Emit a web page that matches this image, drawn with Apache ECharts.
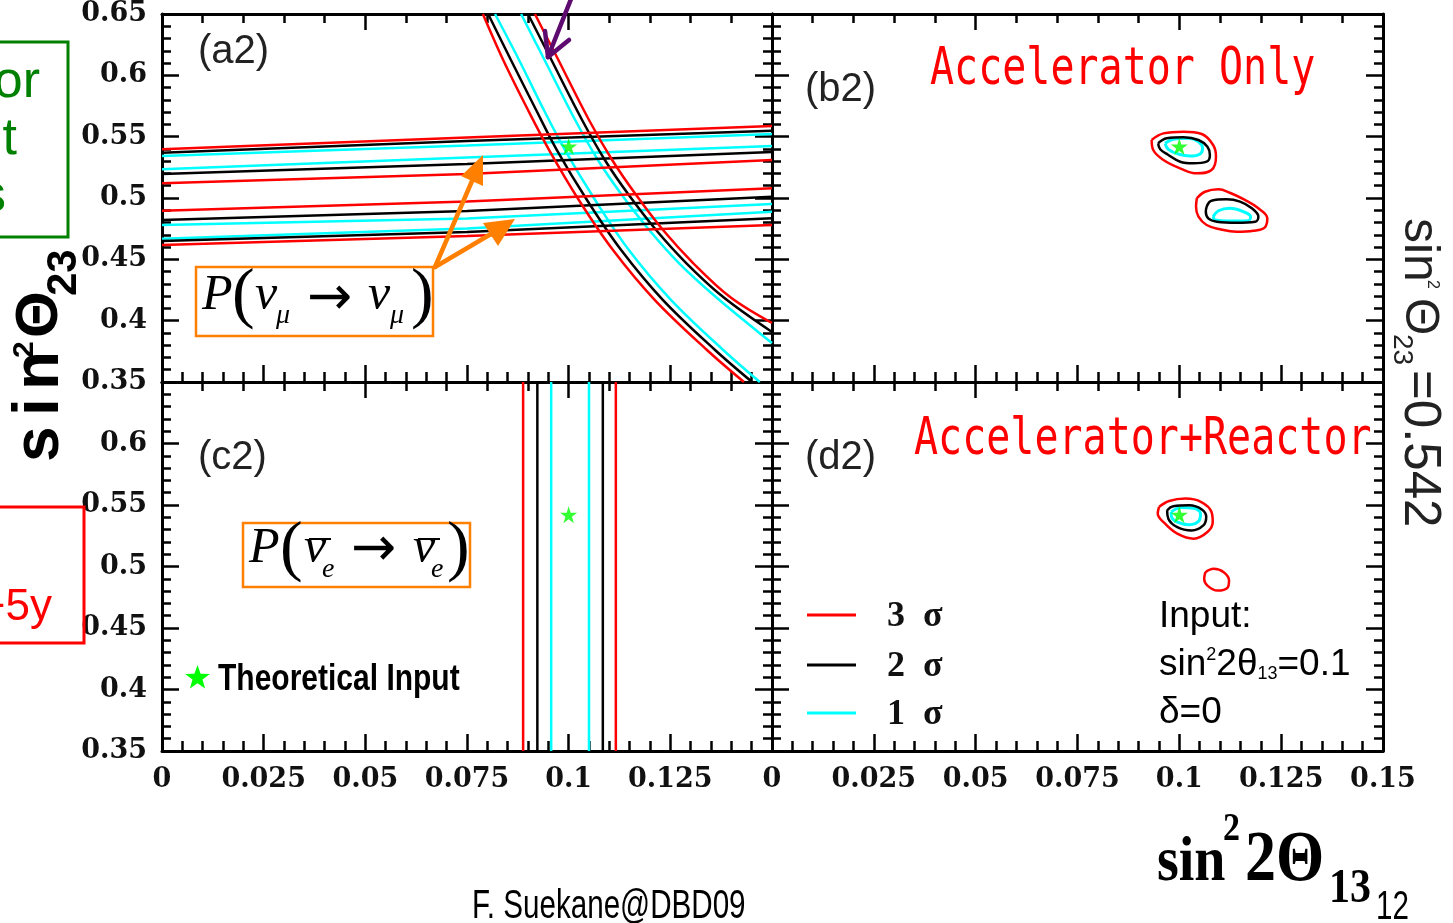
<!DOCTYPE html>
<html>
<head>
<meta charset="utf-8">
<title>sin²Θ23 vs sin²2Θ13 allowed regions</title>
<script src="https://cdn.jsdelivr.net/npm/echarts@6/dist/echarts.min.js"></script>
<style>
html,body{margin:0;padding:0;background:#fff;overflow:hidden}
#chart{width:1453px;height:923px}
</style>
</head>
<body>
<div id="chart"></div>
<script>
// ---------------- axis ranges ----------------
const xRange = [0, 0.15];          // sin^2 2θ13
const yRange = [0.35, 0.65];       // sin^2 θ23
const xStepBottom = 0.025;
const xStepTop = 0.05;
const yStep = 0.05;

// true parameters used in the simulation
const inputPoint = [0.1, 0.542];

// ---------------- (a2) nu_mu disappearance bands ----------------
// band edges sampled at these sin^2 2θ13 values
const bandX = [0, 0.075, 0.15];
// upper-octant band
const upTop3 = [0.5397, 0.5493, 0.5587];
const upTop2 = [0.5369, 0.5465, 0.5549];
const upTop1 = [0.5342, 0.5428, 0.5522];
const upBot1 = [0.5234, 0.5330, 0.5424];
const upBot2 = [0.5196, 0.5277, 0.5375];
const upBot3 = [0.5120, 0.5196, 0.5310];
// lower-octant band
const loTop3 = [0.4896, 0.4971, 0.5079];
const loTop2 = [0.4821, 0.4894, 0.5011];
const loTop1 = [0.4780, 0.4833, 0.4951];
const loBot1 = [0.4668, 0.4751, 0.4888];
const loBot2 = [0.4650, 0.4723, 0.4835];
const loBot3 = [0.4617, 0.4690, 0.4780];

// ---------------- (a2) nu_e appearance band ----------------
const appLeft3 = [[0.0789,0.65],[0.0839,0.6125],[0.0900,0.5717],[0.0952,0.5391],[0.1025,0.4984],[0.1109,0.4576],[0.1212,0.4168],[0.1340,0.3761],[0.1431,0.35]];
const appLeft2 = [[0.0802,0.65],[0.0858,0.6125],[0.0920,0.5717],[0.0971,0.5391],[0.1045,0.4984],[0.1129,0.4576],[0.1232,0.4168],[0.1360,0.3761],[0.1451,0.35]];
const appLeft1 = [[0.0819,0.65],[0.0878,0.6125],[0.0939,0.5717],[0.0991,0.5391],[0.1065,0.4984],[0.1148,0.4576],[0.1252,0.4168],[0.1380,0.3761],[0.1470,0.35]];
const appRight1 = [[0.0883,0.65],[0.0937,0.6149],[0.1016,0.5636],[0.1072,0.5310],[0.1131,0.5024],[0.1198,0.4739],[0.1271,0.4470],[0.1362,0.4193],[0.1466,0.3908],[0.15,0.3818]];
const appRight2 = [[0.0900,0.65],[0.0954,0.6149],[0.1033,0.5636],[0.1089,0.5310],[0.1148,0.5024],[0.1215,0.4739],[0.1289,0.4470],[0.1380,0.4193],[0.15,0.3908]];
const appRight3 = [[0.0917,0.65],[0.0971,0.6149],[0.1050,0.5636],[0.1107,0.5310],[0.1166,0.5024],[0.1232,0.4739],[0.1306,0.4470],[0.1397,0.4193],[0.15,0.3981]];

// ---------------- (c2) reactor limits on sin^2 2θ13 ----------------
const reactor3 = [0.0888, 0.1116];
const reactor2 = [0.0923, 0.1084];
const reactor1 = [0.0957, 0.1050];

// ---------------- (b2) accelerator only: two islands ----------------
const accA3 = [[0.0932,0.5473],[0.0961,0.5527],[0.1010,0.5541],[0.1055,0.5522],[0.1083,0.5432],[0.1090,0.5337],[0.1079,0.5228],[0.1043,0.5201],[0.1002,0.5242],[0.0961,0.5310],[0.0936,0.5391]];
const accA2 = [[0.0948,0.5446],[0.0969,0.5487],[0.1010,0.5495],[0.1047,0.5473],[0.1069,0.5418],[0.1075,0.5351],[0.1067,0.5296],[0.1034,0.5283],[0.1002,0.5296],[0.0973,0.5351],[0.0953,0.5397]];
const accA1 = [[0.0965,0.5446],[0.0985,0.5479],[0.1022,0.5487],[0.1047,0.5459],[0.1057,0.5405],[0.1051,0.5359],[0.1026,0.5342],[0.0997,0.5359],[0.0973,0.5397]];
const accB3 = [[0.1043,0.4998],[0.1063,0.5051],[0.1096,0.5071],[0.1124,0.5043],[0.1161,0.4984],[0.1194,0.4916],[0.1216,0.4834],[0.1210,0.4761],[0.1182,0.4733],[0.1141,0.4725],[0.1100,0.4745],[0.1067,0.4780],[0.1047,0.4848],[0.1041,0.4929]];
const accB2 = [[0.1067,0.4929],[0.1079,0.4978],[0.1116,0.4989],[0.1149,0.4970],[0.1178,0.4916],[0.1194,0.4848],[0.1186,0.4807],[0.1141,0.4799],[0.1092,0.4807],[0.1071,0.4834],[0.1065,0.4889]];
const accB1 = [[0.1083,0.4848],[0.1096,0.4896],[0.1124,0.4916],[0.1157,0.4889],[0.1175,0.4848],[0.1169,0.4815],[0.1124,0.4812],[0.1088,0.4821]];

// ---------------- (d2) accelerator + reactor ----------------
const combA3 = [[0.0950,0.5483],[0.0975,0.5532],[0.1015,0.5552],[0.1054,0.5524],[0.1079,0.5443],[0.1082,0.5361],[0.1069,0.5280],[0.1035,0.5226],[0.0995,0.5267],[0.0965,0.5348],[0.0947,0.5430]];
const combA2 = [[0.0970,0.5457],[0.0985,0.5489],[0.1024,0.5497],[0.1056,0.5462],[0.1066,0.5402],[0.1059,0.5334],[0.1030,0.5293],[0.0995,0.5320],[0.0973,0.5389]];
const combA1 = [[0.0980,0.5443],[0.1005,0.5479],[0.1035,0.5473],[0.1052,0.5430],[0.1049,0.5375],[0.1024,0.5340],[0.0995,0.5361],[0.0981,0.5402]];
const combB3 = [[0.1064,0.4954],[0.1084,0.4981],[0.1109,0.4954],[0.1122,0.4886],[0.1118,0.4826],[0.1094,0.4804],[0.1069,0.4845],[0.1061,0.4900]];

// ---------------- styling ----------------
const RED = '#ff0000', BLACK = '#000000', CYAN = '#00ffff';
const GREEN_STAR = '#00ff00', ORANGE = '#ff8000', PURPLE = '#5e0b70';
const STAR = 'path://M50,0L61.2,34.5L97.6,34.5L68.2,55.9L79.4,90.5L50,69.1L20.6,90.5L31.8,55.9L2.4,34.5L38.8,34.5Z';
const SERIF = '"Liberation Serif", "DejaVu Serif", serif';
const SANS = '"Liberation Sans", Arial, sans-serif';
const MONO = '"DejaVu Sans Mono", "Liberation Mono", monospace';
const TICKFONT = '"DejaVu Serif", "Liberation Serif", serif';

const fmt = v => String(+v.toFixed(3));

const grids = [
  {left: 162, top: 14,  width: 610, height: 368},   // a2
  {left: 772, top: 14,  width: 611, height: 368},   // b2
  {left: 162, top: 382, width: 610, height: 369},   // c2
  {left: 772, top: 382, width: 611, height: 369}    // d2
];

const tickStyle = {color: '#000', width: 2.5};
const labelStyle = {
  show: true, color: '#111', fontFamily: TICKFONT, fontWeight: 'bold', fontSize: 27,
  formatter: fmt
};

function xAxisOf(g, position, label) {
  const top = position === 'top';
  return {
    type: 'value', gridIndex: g, position, min: xRange[0], max: xRange[1],
    interval: top ? xStepTop : xStepBottom,
    axisLine: {show: true, onZero: false, lineStyle: {color: '#000', width: 3}},
    axisTick: {show: true, inside: true, length: top ? 16 : 17, lineStyle: tickStyle},
    minorTick: {show: true, splitNumber: 5, length: top ? 9 : 10, lineStyle: tickStyle},
    splitLine: {show: false}, minorSplitLine: {show: false},
    axisLabel: label ? Object.assign({margin: 15}, labelStyle, label) : {show: false}
  };
}
function yAxisOf(g, position, label) {
  return {
    type: 'value', gridIndex: g, position, min: yRange[0], max: yRange[1],
    interval: yStep,
    axisLine: {show: true, onZero: false, lineStyle: {color: '#000', width: 3}},
    axisTick: {show: true, inside: true, length: 17, lineStyle: tickStyle},
    minorTick: {show: true, splitNumber: 5, length: 9, lineStyle: tickStyle},
    splitLine: {show: false}, minorSplitLine: {show: false},
    axisLabel: label ? Object.assign({margin: 15}, labelStyle, label) : {show: false}
  };
}

const xAxes = [
  xAxisOf(0, 'bottom', null), xAxisOf(0, 'top', null),
  xAxisOf(1, 'bottom', null), xAxisOf(1, 'top', null),
  xAxisOf(2, 'bottom', {showMaxLabel: false}), xAxisOf(2, 'top', null),
  xAxisOf(3, 'bottom', {}), xAxisOf(3, 'top', null)
];
const yAxes = [
  yAxisOf(0, 'left', {}), yAxisOf(0, 'right', null),
  yAxisOf(1, 'left', null), yAxisOf(1, 'right', null),
  yAxisOf(2, 'left', {showMaxLabel: false}), yAxisOf(2, 'right', null),
  yAxisOf(3, 'left', null), yAxisOf(3, 'right', null)
];

// ---------------- series ----------------
const series = [];
function addLine(data, color, panel, opts) {
  opts = opts || {};
  series.push({
    type: 'line', data, xAxisIndex: panel * 2, yAxisIndex: panel * 2,
    showSymbol: false, symbol: 'none', smooth: opts.smooth || false,
    lineStyle: {color, width: opts.width || 2.5},
    z: color === RED ? 4 : (color === BLACK ? 3 : 2),
    silent: true, animation: false, clip: true
  });
}
const closed = pts => pts.concat([pts[0]]);
const bandLine = vals => bandX.map((x, i) => [x, vals[i]]);

// (a2)
[[upTop1, CYAN], [upBot1, CYAN], [loTop1, CYAN], [loBot1, CYAN],
 [upTop2, BLACK], [upBot2, BLACK], [loTop2, BLACK], [loBot2, BLACK],
 [upTop3, RED], [upBot3, RED], [loTop3, RED], [loBot3, RED]]
  .forEach(([v, c]) => addLine(bandLine(v), c, 0));
[[appLeft1, CYAN], [appRight1, CYAN], [appLeft2, BLACK], [appRight2, BLACK], [appLeft3, RED], [appRight3, RED]]
  .forEach(([d, c]) => addLine(d, c, 0, {smooth: 0.35}));

// (b2)
[[accA1, CYAN, 3], [accB1, CYAN, 3], [accA2, BLACK, 2.5], [accB2, BLACK, 2.5], [accA3, RED, 2.5], [accB3, RED, 2.5]]
  .forEach(([d, c, w]) => addLine(closed(d), c, 1, {smooth: 0.4, width: w}));

// (c2)
[[reactor1, CYAN], [reactor2, BLACK], [reactor3, RED]].forEach(([lims, c]) => {
  lims.forEach(v => addLine([[v, yRange[0]], [v, yRange[1]]], c, 2));
});

// (d2)
[[combA1, CYAN, 3], [combA2, BLACK, 2.5], [combA3, RED, 2.5], [combB3, RED, 2.5]]
  .forEach(([d, c, w]) => addLine(closed(d), c, 3, {smooth: 0.4, width: w}));

// true point in every panel
for (let p = 0; p < 4; p++) {
  series.push({
    type: 'scatter', data: [inputPoint], xAxisIndex: p * 2, yAxisIndex: p * 2,
    symbol: STAR, symbolSize: 17, itemStyle: {color: GREEN_STAR}, z: 10,
    silent: true, animation: false
  });
}

// ---------------- annotations ----------------
function txt(text, x, y, font, fill, extra) {
  return {type: 'text', x, y, z: 100, silent: true,
    style: Object.assign({text, font, fill: fill || '#000', textAlign: 'left', textVerticalAlign: 'middle'}, extra || {})};
}
function seg(x1, y1, x2, y2, color, w, cap) {
  return {type: 'line', z: 100, silent: true, shape: {x1, y1, x2, y2}, style: {stroke: color, lineWidth: w, lineCap: cap || 'round'}};
}
function rect(x, y, w, h, color, lw) {
  return {type: 'rect', z: 99, silent: true, shape: {x, y, width: w, height: h}, style: {fill: 'none', stroke: color, lineWidth: lw}};
}
function tri(points, color) {
  return {type: 'polygon', z: 100, silent: true, shape: {points}, style: {fill: color}};
}

const IT = 'italic 50px ' + SERIF, PAR = '68px ' + SERIF, SUB = 'italic 28px ' + SERIF;
const ARROW = '54px "DejaVu Sans", sans-serif';
const panelFont = '40px ' + SANS;
const graphic = [
  // panel tags
  txt('(a2)', 198, 52, panelFont, '#222'),
  txt('(b2)', 805, 90, panelFont, '#222'),
  txt('(c2)', 198, 458, panelFont, '#222'),
  txt('(d2)', 805, 458, panelFont, '#222'),

  // panel titles
  Object.assign(txt('Accelerator Only', 930, 70, '40px ' + MONO, RED), {scaleY: 1.3}),
  Object.assign(txt('Accelerator+Reactor', 914, 440, '40px ' + MONO, RED), {scaleY: 1.3}),

  // P(nu_mu -> nu_mu) box
  rect(196, 267, 237, 69, ORANGE, 2.5),
  txt('P', 202, 296, IT), txt('(', 232, 297, PAR), txt('ν', 255, 296, IT), txt('μ', 276, 316, SUB),
  txt('→', 307, 300, ARROW), txt('ν', 368, 296, IT), txt('μ', 390, 316, SUB), txt(')', 411, 297, PAR),

  // P(anti-nu_e -> anti-nu_e) box
  rect(243, 523, 227, 64, ORANGE, 2.5),
  txt('P', 249, 549, IT), txt('(', 280, 550, PAR), txt('ν', 304, 549, IT), txt('e', 322, 570, SUB),
  txt('→', 351, 551, ARROW), txt('ν', 413, 549, IT), txt('e', 431, 570, SUB), txt(')', 447, 550, PAR),
  seg(309, 539, 331, 539, '#000', 2, 'butt'),
  seg(418, 539, 440, 539, '#000', 2, 'butt'),

  // orange pointers to the disappearance bands
  seg(435, 267, 472, 181, ORANGE, 4.5),
  tri([[483, 155], [461, 176], [483, 186]], ORANGE),
  seg(435, 267, 491, 234, ORANGE, 4.5),
  tri([[515, 219], [483, 223], [498, 246]], ORANGE),

  // purple pointer to the appearance band
  seg(573, -6, 548, 57, PURPLE, 4.5),
  seg(548, 57, 545, 31, PURPLE, 4.5),
  seg(548, 57, 569, 40, PURPLE, 4.5),

  // theoretical input key (c2)
  {type: 'polygon', z: 100, silent: true, shape: {points: [
    [197.5, 665], [200.6, 673.7], [209.9, 674], [202.5, 679.6], [205.1, 688.5],
    [197.5, 683.3], [189.9, 688.5], [192.5, 679.6], [185.1, 674], [194.4, 673.7]]},
    style: {fill: GREEN_STAR}},
  Object.assign(txt('Theoretical Input', 218, 680, 'bold 30px ' + SANS, '#000'), {scaleY: 1.2}),

  // sigma key (d2)
  seg(807, 615, 856, 615, RED, 3, 'butt'),
  seg(807, 665, 856, 665, BLACK, 3, 'butt'),
  seg(807, 713, 856, 713, CYAN, 3, 'butt'),
  txt('3  σ', 887, 617, 'bold 36px ' + SERIF, '#111'),
  txt('2  σ', 887, 667, 'bold 36px ' + SERIF, '#111'),
  txt('1  σ', 887, 715, 'bold 36px ' + SERIF, '#111'),

  // input parameters (d2)
  txt('Input:', 1159, 617, '37px ' + SANS, '#000'),
  {type: 'text', x: 1159, y: 665, z: 100, silent: true, style: {
    text: '{n|sin}{u|2}{n|2θ}{d|13}{n|=0.1}', fill: '#000', textAlign: 'left', textVerticalAlign: 'middle',
    rich: {n: {fontFamily: SANS, fontSize: 37}, u: {fontFamily: SANS, fontSize: 18, verticalAlign: 'top'}, d: {fontFamily: SANS, fontSize: 18, verticalAlign: 'bottom'}}}},
  txt('δ=0', 1159, 713, '37px ' + SANS, '#000'),

  // vertical axis title
  {type: 'group', x: 62, y: 462, rotation: Math.PI / 2, silent: true, children: [
    txt('s', 0, -22, 'bold 64px ' + SANS),
    txt('i', 46, -22, 'bold 64px ' + SANS),
    txt('n', 72, -22, 'bold 64px ' + SANS),
    txt('2', 104, -37, 'bold 30px ' + SANS),
    txt('Θ', 124, -22, 'bold 60px ' + SANS),
    txt('23', 166, 2, 'bold 42px ' + SANS)
  ]},

  // fixed θ23 note on the right
  {type: 'group', x: 1402, y: 218, rotation: -Math.PI / 2, silent: true, children: [
    txt('sin', 0, -17, '50px ' + SANS, '#222'),
    txt('2', 62, -30, '16px ' + SANS, '#222'),
    txt('Θ', 80, -17, '48px ' + SANS, '#222'),
    txt('23', 116, 0, '28px ' + SANS, '#222'),
    txt('=0.542', 152, -17, '51px ' + SANS, '#222')
  ]},

  // horizontal axis title
  {type: 'group', x: 1157, y: 885, scaleY: 1.15, silent: true, children: [
    txt('sin', 0, -19, 'bold 56px ' + SERIF),
    txt('2', 66, -48, 'bold 34px ' + SERIF),
    txt('2Θ', 88, -20, 'bold 62px ' + SERIF),
    txt('13', 172, 4, 'bold 42px ' + SERIF)
  ]},

  // footer
  Object.assign(txt('F. Suekane@DBD09', 472, 907, '40px ' + SANS, '#000'), {scaleX: 0.74}),
  Object.assign(txt('12', 1376, 908, '40px ' + SANS, '#000'), {scaleX: 0.74}),

  // neighbouring slide boxes at the left edge
  rect(-10, 42, 78, 195, '#008000', 3),
  txt('or', 40, 83, '52px ' + SANS, '#008000', {textAlign: 'right'}),
  txt('t', 17, 140, '52px ' + SANS, '#008000', {textAlign: 'right'}),
  txt('s', 6, 197, '52px ' + SANS, '#008000', {textAlign: 'right'}),
  rect(-10, 507, 94, 136, RED, 3),
  txt('+5y', 52, 608, '44px ' + SANS, RED, {textAlign: 'right'})
];

const chart = echarts.init(document.getElementById('chart'), null, {renderer: 'canvas'});
chart.setOption({
  backgroundColor: '#fff',
  animation: false,
  grid: grids,
  xAxis: xAxes,
  yAxis: yAxes,
  series,
  graphic
});
</script>
</body>
</html>
